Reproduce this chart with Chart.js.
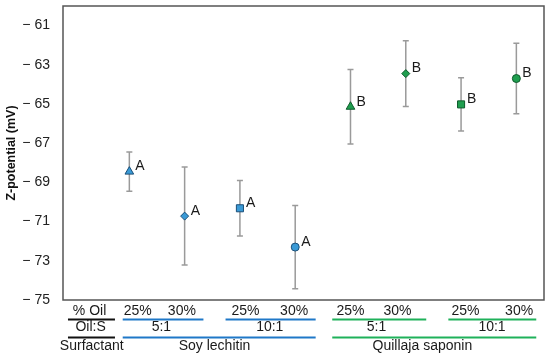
<!DOCTYPE html>
<html>
<head>
<meta charset="utf-8">
<script src="https://cdn.jsdelivr.net/npm/chart.js@4.4.1/dist/chart.umd.min.js"></script>
<style>
  html, body { margin: 0; padding: 0; background: #fff; }
  #wrap { width: 550px; height: 354px; }
</style>
</head>
<body>
<div id="wrap"><canvas id="zChart"></canvas></div>
<script>
// sample positions along the x axis
const positions = [1, 2, 3, 4, 5, 6, 7, 8];
const zMeans = [-68.45, -70.72, -70.32, -72.3, -65.14, -63.45, -65.02, -63.7];
const zErrors = [1.0, 2.5, 1.42, 2.12, 1.9, 1.68, 1.36, 1.8];
const groupLetters = ['A', 'A', 'A', 'A', 'B', 'B', 'B', 'B'];
const markerShapes = ['triangle', 'rectRot', 'rect', 'circle', 'triangle', 'rectRot', 'rect', 'circle'];
const surfactants = ['soy', 'soy', 'soy', 'soy', 'quillaja', 'quillaja', 'quillaja', 'quillaja'];
const yTicks = [-75, -73, -71, -69, -67, -65, -63, -61];

// table under the plot (x in axis units)
const oilLabels = [
    { text: '% Oil', x: 0.28 }, { text: '25%', x: 1.15 }, { text: '30%', x: 1.95 },
    { text: '25%', x: 3.1 }, { text: '30%', x: 3.98 }, { text: '25%', x: 5.0 },
    { text: '30%', x: 5.85 }, { text: '25%', x: 7.08 }, { text: '30%', x: 8.05 }
];
const ratioLabels = [
    { text: 'Oil:S', x: 0.3 }, { text: '5:1', x: 1.58 }, { text: '10:1', x: 3.54 },
    { text: '5:1', x: 5.47 }, { text: '10:1', x: 7.56 }
];
const surfactantLabels = [
    { text: 'Surfactant', x: 0.32 }, { text: 'Soy lechitin', x: 2.54 }, { text: 'Quillaja saponin', x: 6.3 }
];
const oilLines = [
    { from: -0.11, to: 0.74, group: 'none' }, { from: 0.88, to: 2.34, group: 'soy' },
    { from: 2.74, to: 4.37, group: 'soy' }, { from: 4.67, to: 6.37, group: 'quillaja' },
    { from: 6.77, to: 8.36, group: 'quillaja' }
];
const ratioLines = [
    { from: -0.11, to: 0.74, group: 'none' }, { from: 0.88, to: 4.37, group: 'soy' },
    { from: 4.67, to: 8.36, group: 'quillaja' }
];

const fillColors = { soy: '#3a9ad6', quillaja: '#1f9e4f' };
const edgeColors = { soy: '#1b4f78', quillaja: '#0d5a2b' };
const lineColors = { none: '#111111', soy: '#1f78c8', quillaja: '#1fb15a' };

const points = positions.map((x, i) => ({ x: x, y: zMeans[i] }));

const errorBars = {
    id: 'errorBars',
    beforeDatasetsDraw(chart) {
        const ctx = chart.ctx;
        const xs = chart.scales.x, ys = chart.scales.y;
        ctx.save();
        ctx.strokeStyle = '#9a9a9a';
        ctx.lineWidth = 1.5;
        positions.forEach((p, i) => {
            const x = xs.getPixelForValue(p);
            const top = ys.getPixelForValue(zMeans[i] + zErrors[i]);
            const bot = ys.getPixelForValue(zMeans[i] - zErrors[i]);
            ctx.beginPath();
            ctx.moveTo(x, top); ctx.lineTo(x, bot);
            ctx.moveTo(x - 3, top); ctx.lineTo(x + 3, top);
            ctx.moveTo(x - 3, bot); ctx.lineTo(x + 3, bot);
            ctx.stroke();
        });
        ctx.restore();
    },
    afterDatasetsDraw(chart) {
        const ctx = chart.ctx;
        const xs = chart.scales.x, ys = chart.scales.y;
        ctx.save();
        ctx.fillStyle = '#1a1a1a';
        ctx.font = '14px "Liberation Sans", Arial, sans-serif';
        ctx.textBaseline = 'middle';
        positions.forEach((p, i) => {
            ctx.fillText(groupLetters[i], xs.getPixelForValue(p) + 6, ys.getPixelForValue(zMeans[i]) - 5);
        });
        ctx.restore();
    }
};

const frameAndTable = {
    id: 'frameAndTable',
    afterDraw(chart) {
        const ctx = chart.ctx;
        const a = chart.chartArea;
        const xs = chart.scales.x;
        ctx.save();
        ctx.strokeStyle = '#555555';
        ctx.lineWidth = 1.5;
        ctx.strokeRect(a.left, a.top, a.right - a.left, a.bottom - a.top);

        ctx.fillStyle = '#1a1a1a';
        ctx.font = '14px "Liberation Sans", Arial, sans-serif';
        ctx.textAlign = 'center';
        ctx.textBaseline = 'middle';
        oilLabels.forEach(l => ctx.fillText(l.text, xs.getPixelForValue(l.x), a.bottom + 11));
        ratioLabels.forEach(l => ctx.fillText(l.text, xs.getPixelForValue(l.x), a.bottom + 27));
        surfactantLabels.forEach(l => ctx.fillText(l.text, xs.getPixelForValue(l.x), a.bottom + 46));

        ctx.lineWidth = 2;
        const drawLines = (lines, y) => lines.forEach(l => {
            ctx.strokeStyle = lineColors[l.group];
            ctx.beginPath();
            ctx.moveTo(xs.getPixelForValue(l.from), y);
            ctx.lineTo(xs.getPixelForValue(l.to), y);
            ctx.stroke();
        });
        drawLines(oilLines, a.bottom + 19.5);
        drawLines(ratioLines, a.bottom + 37.5);
        ctx.restore();
    }
};

new Chart(document.getElementById('zChart'), {
    type: 'scatter',
    data: {
        datasets: [{
            data: points,
            pointStyle: markerShapes,
            pointRadius: markerShapes.map(s => s === 'rectRot' ? 4 : (s === 'circle' ? 4 : 5)),
            pointHoverRadius: 5,
            pointBackgroundColor: surfactants.map(s => fillColors[s]),
            pointBorderColor: surfactants.map(s => edgeColors[s]),
            pointBorderWidth: 1
        }]
    },
    options: {
        responsive: true,
        maintainAspectRatio: false,
        animation: false,
        layout: { padding: { left: 0, right: 5, top: 4, bottom: 54 } },
        plugins: { legend: { display: false }, tooltip: { enabled: false } },
        scales: {
            x: {
                type: 'linear',
                min: -0.2,
                max: 8.5,
                display: false
            },
            y: {
                min: -75,
                max: -60,
                afterBuildTicks: (scale) => { scale.ticks = yTicks.map(v => ({ value: v })); },
                afterFit: (scale) => {
                    scale.width = 63;
                    scale.paddingTop = 0;
                    scale.paddingBottom = 0;
                },
                grid: { display: false, drawTicks: false },
                border: { display: false },
                ticks: {
                    padding: 13,
                    color: '#222222',
                    font: { family: '"Liberation Sans", Arial, sans-serif', size: 14 },
                    callback: (v) => '\u2212 ' + Math.abs(v)
                },
                title: {
                    display: true,
                    text: 'Z-potential (mV)',
                    color: '#111111',
                    padding: { top: 4, bottom: 0 },
                    font: { family: '"Liberation Sans", Arial, sans-serif', size: 12.5, weight: 'bold' }
                }
            }
        }
    },
    plugins: [errorBars, frameAndTable]
});
</script>
</body>
</html>
